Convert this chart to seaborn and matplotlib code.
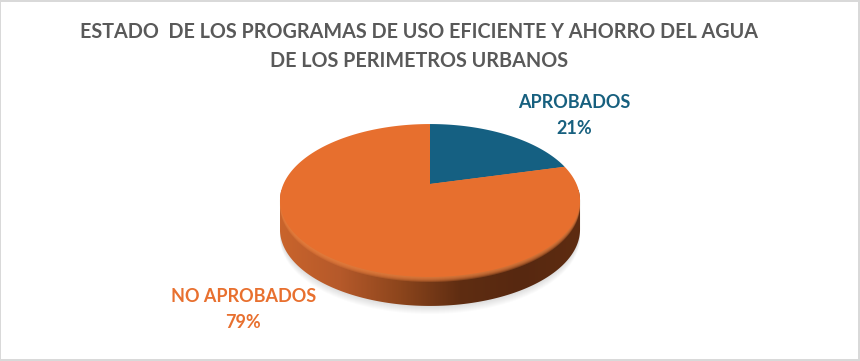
import numpy as np
import matplotlib
matplotlib.use('Agg')
import matplotlib.pyplot as plt
from matplotlib.patches import Polygon, Rectangle
import seaborn as sns

categories = ['APROBADOS', 'NO APROBADOS']
values = [21, 79]
colors = ['#156082', '#E76F2E']
text_colors = ['#17607F', '#E8702F']
title_lines = ['ESTADO  DE LOS PROGRAMAS DE USO EFICIENTE Y AHORRO DEL AGUA',
               'DE LOS PERIMETROS URBANOS']

sns.set_theme(style='white')
plt.rcParams['font.family'] = ['Lato', 'DejaVu Sans']


# tilted disc, as in the 3D pie of the original
def tilt(pts):
    k = 0.2157
    d = 1 + k * pts[:, 1]
    return np.column_stack([430 + 146.5 * pts[:, 0] / d, 184 - 72.9 * pts[:, 1] / d])


fig = plt.figure(figsize=(8.6, 3.61), dpi=100, facecolor='#D9D9D9')
ax = fig.add_axes([0, 0, 1, 1])
palette = sns.color_palette(colors)
wedges, _ = ax.pie(values, colors=palette, startangle=90, counterclock=False)

# white chart area inside the grey frame
ax.add_patch(Rectangle((1, 2), 857, 357, fc='white', ec='none', zorder=0))

t = np.linspace(0, 2 * np.pi, 721)
rim = tilt(np.column_stack([np.cos(t), np.sin(t)]))
depth = 29

# soft shadow under the disc
for d in range(1, 9):
    ax.add_patch(Polygon(rim + [0, depth + d], fc='#808080', ec='none', alpha=0.03, zorder=1))

# side wall with the horizontal shading
il, ir = rim[:, 0].argmin(), rim[:, 0].argmax()
rim2 = rim[:-1]
idx = np.arange(il, il + 720) % 720
idx = idx[:((ir - il) % 720) + 1]
low = rim2[idx] + [0, depth]
idx2 = np.arange(ir, ir + 720) % 720
idx2 = idx2[:((il - ir) % 720) + 1]
wall = Polygon(np.vstack([low, rim2[idx2]]), fc='none', ec='none')
ax.add_patch(wall)
shade = sns.blend_palette(['#C9642C', '#B5592A', '#8C451C', '#5F2D12', '#572810', '#5E2C11'], n_colors=256)
img = ax.imshow(np.array(shade)[None, :, :], extent=[280, 581, 310, 190], aspect='auto', zorder=2)
img.set_clip_path(wall)

# lighter bevel just under the top surface
for d in range(1, 6):
    ax.add_patch(Polygon(rim + [0, d], fc='#E8803F', ec='none', alpha=0.3, zorder=3))

for w, c in zip(wedges, palette):
    a = np.radians(np.linspace(w.theta1, w.theta2, 200))
    arc = np.column_stack([np.cos(a), np.sin(a)]) * w.r
    pts = np.vstack([[w.center], arc + w.center])
    ax.add_patch(Polygon(tilt(pts), fc=c, ec='none', zorder=4))
    w.set_visible(False)

ax.set_aspect('auto')
ax.set_xlim(0, 860)
ax.set_ylim(361, 0)
ax.axis('off')

ax.text(419, 32, title_lines[0], color='#595959', fontsize=14.2, fontweight='bold', ha='center', va='center')
ax.text(419, 61, title_lines[1], color='#595959', fontsize=14.2, fontweight='bold', ha='center', va='center')

ax.text(574.5, 103, categories[0], color=text_colors[0], fontsize=13, fontweight='bold', ha='center', va='center')
ax.text(574.5, 129, '%d%%' % values[0], color=text_colors[0], fontsize=13, fontweight='bold', ha='center', va='center')
ax.text(243.5, 297, categories[1], color=text_colors[1], fontsize=13, fontweight='bold', ha='center', va='center')
ax.text(243.5, 323, '%d%%' % values[1], color=text_colors[1], fontsize=13, fontweight='bold', ha='center', va='center')

fig.savefig('out.png', dpi=100, facecolor=fig.get_facecolor())
